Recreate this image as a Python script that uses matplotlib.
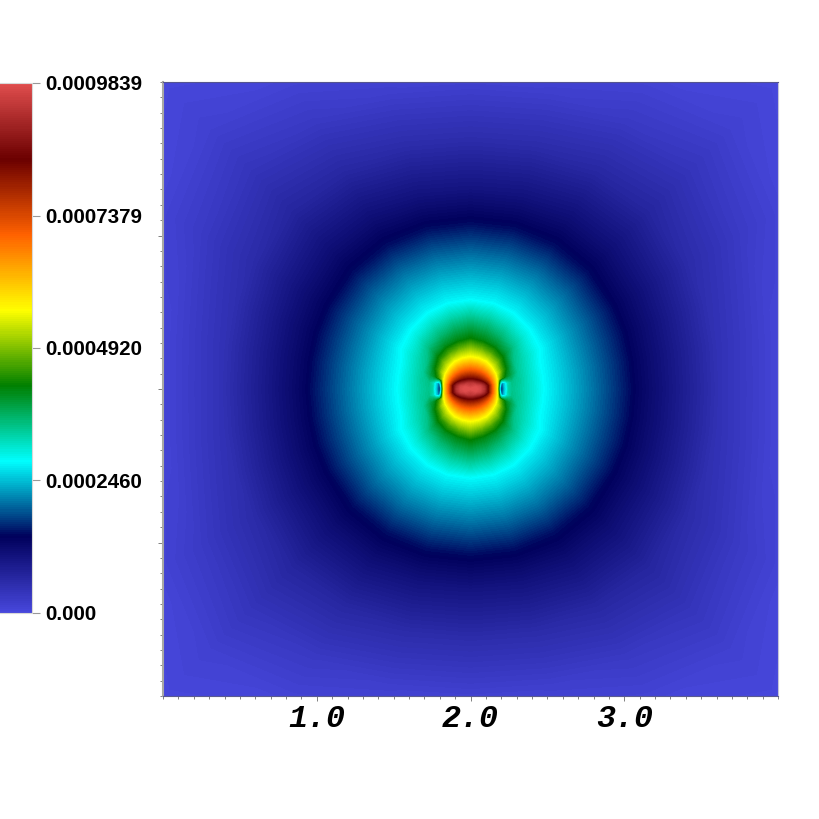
import numpy as np
import matplotlib
matplotlib.use('Agg')
import matplotlib.pyplot as plt
from matplotlib.colors import LinearSegmentedColormap
from matplotlib.ticker import MultipleLocator

# rainbow desaturated
cmap_pos = [0, 1/7., 2/7., 3/7., 4/7., 5/7., 6/7., 1]
cmap_cols = [(0.278, 0.278, 0.859), (0, 0, 0.36), (0, 1, 1), (0, 0.5, 0),
             (1, 1, 0), (1, 0.38, 0), (0.42, 0, 0), (0.878, 0.302, 0.302)]

center = (2.0, 2.0)
cbar_ticks = [0.0, 0.000246, 0.000492, 0.0007379, 0.0009839]
cbar_labels = ['0.000', '0.0002460', '0.0004920', '0.0007379', '0.0009839']
x_ticks = [1.0, 2.0, 3.0]
x_labels = ['1.0', '2.0', '3.0']

# field, one quadrant (it is mirrored), units of 1e-6
angles = [0, 10, 20, 30, 45, 60, 75, 90]
radii = [0, .039, .065, .091, .117, .143, .169, .182, .195, .208, .221, .234, .247,
         .273, .325, .39, .481, .586, .716, .878, 1.074, 1.301, 1.627, 2.017, 2.407, 2.83]
field = [
    [983.9, 983.9, 983.9, 983.9, 983.9, 983.9, 983.9, 983.9],
    [983, 982, 978, 970, 955, 945, 935, 930],
    [970, 965, 950, 920, 880, 850, 842, 838],
    [925, 915, 885, 843, 805, 789, 779, 777],
    [820, 830, 795, 763, 738, 726, 718, 718],
    [703, 703, 692, 685, 675, 672, 669, 670],
    [590, 600, 605, 615, 618, 623, 624, 627],
    [430, 500, 562, 580, 590, 598, 602, 605],
    [190, 300, 510, 545, 562, 574, 580, 584],
    [170, 180, 465, 520, 540, 555, 558, 562],
    [240, 240, 440, 495, 520, 534, 541, 547],
    [275, 275, 422, 465, 502, 515, 524, 532],
    [330, 320, 405, 443, 482, 497, 507, 518],
    [345, 348, 385, 410, 442, 459, 472, 488],
    [332, 336, 338, 347, 391, 405, 414, 425],
    [310, 311, 315, 323, 346, 362, 377, 388],
    [280, 280, 282, 293, 304, 317, 327, 335],
    [255, 255, 257, 263, 267, 273, 277, 278],
    [224, 224, 225, 229, 236, 241, 244, 244],
    [185, 185, 186, 190, 197, 201, 202, 202],
    [138, 138, 140, 142, 147, 149, 149, 148],
    [98, 99, 102, 106, 112, 112, 106, 103],
    [43, 45, 50, 58, 70, 66, 58, 55],
    [5, 8, 15, 27, 38, 28, 16, 12],
    [0, 0, 0, 4, 14, 4, 0, 0],
    [0, 0, 0, 0, 2, 0, 0, 0],
]

cmap = LinearSegmentedColormap.from_list('rainbow_desat', list(zip(cmap_pos, cmap_cols)), N=256)

# mirror the quadrant to the full circle
q = np.array(field, dtype=float) * 1e-6
ang = np.array(angles, dtype=float)
ang_full = np.concatenate([ang, 180 - ang[-2::-1], 180 + ang[1:], 360 - ang[-2::-1]])
z = np.hstack([q, q[:, -2::-1], q[:, 1:], q[:, -2::-1]])
rr, tt = np.meshgrid(radii, np.radians(ang_full), indexing='ij')
xx = center[0] + rr * np.cos(tt)
yy = center[1] + rr * np.sin(tt)

fig = plt.figure(figsize=(8.19, 8.19), dpi=100)
W = 819.
ax = fig.add_axes([163 / W, (819 - 696) / W, 615 / W, 614 / W])
levels = np.linspace(0, 0.0009839, 257)
cs = ax.contourf(xx, yy, z, levels=levels, cmap=cmap, vmin=0, vmax=0.0009839, extend='both')
ax.set_xlim(0, 4)
ax.set_ylim(0, 4)

ax.set_xticks(x_ticks)
ax.set_xticklabels(x_labels, family='Liberation Mono', style='italic', weight='bold', fontsize=22.8)
ax.xaxis.set_minor_locator(MultipleLocator(0.1))
ax.yaxis.set_minor_locator(MultipleLocator(0.1))
ax.set_yticks([1, 2, 3])
ax.set_yticklabels([])
ax.tick_params(which='major', length=3.5, width=0.7, color='#808080', pad=2)
ax.tick_params(which='minor', length=2, width=0.7, color='#808080')
ax.spines['left'].set_color('#a9a9a4')
ax.spines['left'].set_linewidth(1.5)
ax.spines['bottom'].set_color('#5a5a90')
ax.spines['top'].set_color('#55558f')
ax.spines['right'].set_color('#c4c4d8')

# bar runs off the left side of the picture
cax = fig.add_axes([-20 / W, (819 - 613) / W, 52 / W, 530 / W])
sm = plt.cm.ScalarMappable(norm=plt.Normalize(0, 0.0009839), cmap=cmap)
cb = fig.colorbar(sm, cax=cax, ticks=cbar_ticks)
cb.set_ticklabels(cbar_labels)
cb.outline.set_edgecolor('#d8d8d8')
cb.outline.set_linewidth(0.8)
cax.tick_params(length=5.5, width=0.8, color='#999999', pad=4)
for t in cax.get_yticklabels():
    t.set_family('Liberation Sans')
    t.set_weight('bold')
    t.set_fontsize(14.8)

fig.savefig('out.png', dpi=100)
